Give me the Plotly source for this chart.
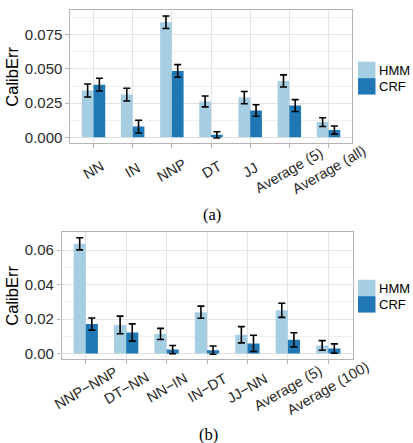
import plotly.graph_objects as go

W, H = 413, 443

# ---- data: panel (a) ----
cats_a = ["NN", "IN", "NNP", "DT", "JJ", "Average (5)", "Average (all)"]
hmm_a = [0.0342, 0.0312, 0.0841, 0.0262, 0.0290, 0.0412, 0.0111]
hmm_a_err = [0.0048, 0.0047, 0.0046, 0.0040, 0.0045, 0.0044, 0.0032]
crf_a = [0.0385, 0.0078, 0.0485, 0.0018, 0.0196, 0.0232, 0.0053]
crf_a_err = [0.0047, 0.0047, 0.0046, 0.0023, 0.0042, 0.0043, 0.0030]
yticks_a = [0.0, 0.025, 0.05, 0.075]
ytick_text_a = ["0.000", "0.025", "0.050", "0.075"]

# ---- data: panel (b) ----
cats_b = ["NNP−NNP", "DT−NN", "NN−IN", "IN−DT", "JJ−NN", "Average (5)", "Average (100)"]
hmm_b = [0.0636, 0.0166, 0.0114, 0.0240, 0.0109, 0.0251, 0.0047]
hmm_b_err = [0.0035, 0.0051, 0.0032, 0.0035, 0.0047, 0.0041, 0.0028]
crf_b = [0.0171, 0.0122, 0.0023, 0.0020, 0.0059, 0.0080, 0.0029]
crf_b_err = [0.0035, 0.0050, 0.0024, 0.0024, 0.0047, 0.0041, 0.0027]
yticks_b = [0.0, 0.02, 0.04, 0.06]
ytick_text_b = ["0.00", "0.02", "0.04", "0.06"]

series_names = ["HMM", "CRF"]
LIGHT, DARK = "#a6cee3", "#1f78b4"
TEXT = "#2a2a2a"
GRID = "#e3e3e3"
BORDER = "#b3b3b3"
FONT = "Liberation Sans, Arial, sans-serif"


def px_x(p):
    return p / W


def px_y(p):
    return 1 - p / H


fig = go.Figure()


def err(arr):
    return dict(type="data", array=arr, visible=True, color="black", thickness=1.6, width=3.5)


for xa, ya, cats, h, he, c, ce in [
    ("x", "y", cats_a, hmm_a, hmm_a_err, crf_a, crf_a_err),
    ("x2", "y2", cats_b, hmm_b, hmm_b_err, crf_b, crf_b_err),
]:
    fig.add_trace(go.Bar(x=cats, y=h, name=series_names[0], marker=dict(color=LIGHT, line=dict(width=0)),
                         error_y=err(he), xaxis=xa, yaxis=ya, showlegend=False))
    fig.add_trace(go.Bar(x=cats, y=c, name=series_names[1], marker=dict(color=DARK, line=dict(width=0)),
                         error_y=err(ce), xaxis=xa, yaxis=ya, showlegend=False))


def xaxis_cfg(domain, anchor):
    return dict(domain=domain, anchor=anchor, type="category", range=[-0.6, 6.6],
                showticklabels=False, ticks="outside", ticklen=3.5, tickcolor=BORDER, tickwidth=1,
                showgrid=True, gridcolor=GRID, gridwidth=1, zeroline=False,
                showline=True, mirror=True, linecolor=BORDER, linewidth=1.2, fixedrange=True)


def yaxis_cfg(domain, anchor, rng, tv, tt, minor_dt):
    return dict(domain=domain, anchor=anchor, range=rng, tickmode="array", tickvals=tv, ticktext=tt,
                ticks="outside", ticklen=3.5, tickcolor=BORDER, tickwidth=1,
                tickfont=dict(family=FONT, size=15, color=TEXT),
                showgrid=True, gridcolor=GRID, gridwidth=1, zeroline=False,
                minor=dict(tickmode="linear", tick0=0, dtick=minor_dt, showgrid=True,
                           gridcolor="#efefef", gridwidth=0.6, ticks=""),
                showline=True, mirror=True, linecolor=BORDER, linewidth=1.2, fixedrange=True)


fig.update_layout(
    width=W, height=H, margin=dict(l=0, r=0, t=0, b=0),
    paper_bgcolor="white", plot_bgcolor="white",
    barmode="group", bargap=0.4, bargroupgap=0,
    font=dict(family=FONT, color=TEXT),
    xaxis=xaxis_cfg([px_x(70), px_x(352)], "y"),
    yaxis=yaxis_cfg([px_y(144), px_y(10)], "x", [-0.00443, 0.0931], yticks_a, ytick_text_a, 0.0125),
    xaxis2=xaxis_cfg([px_x(61.5), px_x(352.5)], "y2"),
    yaxis2=yaxis_cfg([px_y(361), px_y(233)], "x2", [-0.00336, 0.0705], yticks_b, ytick_text_b, 0.01),
)

annotations = []
shapes = []

# rotated category labels (centred under each tick)
for cats, xref, ycen in [(cats_a, "x", 170.5), (cats_b, "x2", 389.5)]:
    for c in cats:
        annotations.append(dict(x=c, xref=xref, y=px_y(ycen), yref="paper", text=c, showarrow=False,
                                textangle=-30, xanchor="center", yanchor="middle",
                                font=dict(family=FONT, size=14.5, color=TEXT)))

# y-axis titles
for yc in [(10 + 144) / 2, (233 + 361) / 2]:
    annotations.append(dict(x=px_x(12), y=px_y(yc), xref="paper", yref="paper", text="CalibErr",
                            showarrow=False, textangle=-90, xanchor="center", yanchor="middle",
                            font=dict(family=FONT, size=16.5, color="black")))

# legends
for top in [62, 281]:
    for i, (nm, col) in enumerate(zip(series_names, [LIGHT, DARK])):
        y0 = top + i * 16.5
        shapes.append(dict(type="rect", xref="paper", yref="paper", x0=px_x(358), x1=px_x(375.5),
                           y0=px_y(y0 + 16.5), y1=px_y(y0), fillcolor=col, line=dict(width=0)))
        annotations.append(dict(x=px_x(376.5), y=px_y(y0 + 8.5), xref="paper", yref="paper", text=nm,
                                showarrow=False, xanchor="left", yanchor="middle",
                                font=dict(family=FONT, size=13, color="black")))

# captions
for txt, xc, yc in [("(a)", 211.5, 215.5), ("(b)", 209, 436)]:
    annotations.append(dict(x=px_x(xc), y=px_y(yc), xref="paper", yref="paper", text=txt,
                            showarrow=False, xanchor="center", yanchor="middle",
                            font=dict(family="Liberation Serif, Times New Roman, serif", size=16.5, color="black")))

fig.update_layout(annotations=annotations, shapes=shapes)
fig.write_html("out.html", config={"displayModeBar": False},
               post_script="document.body.style.margin='0';document.body.style.overflow='hidden';")
